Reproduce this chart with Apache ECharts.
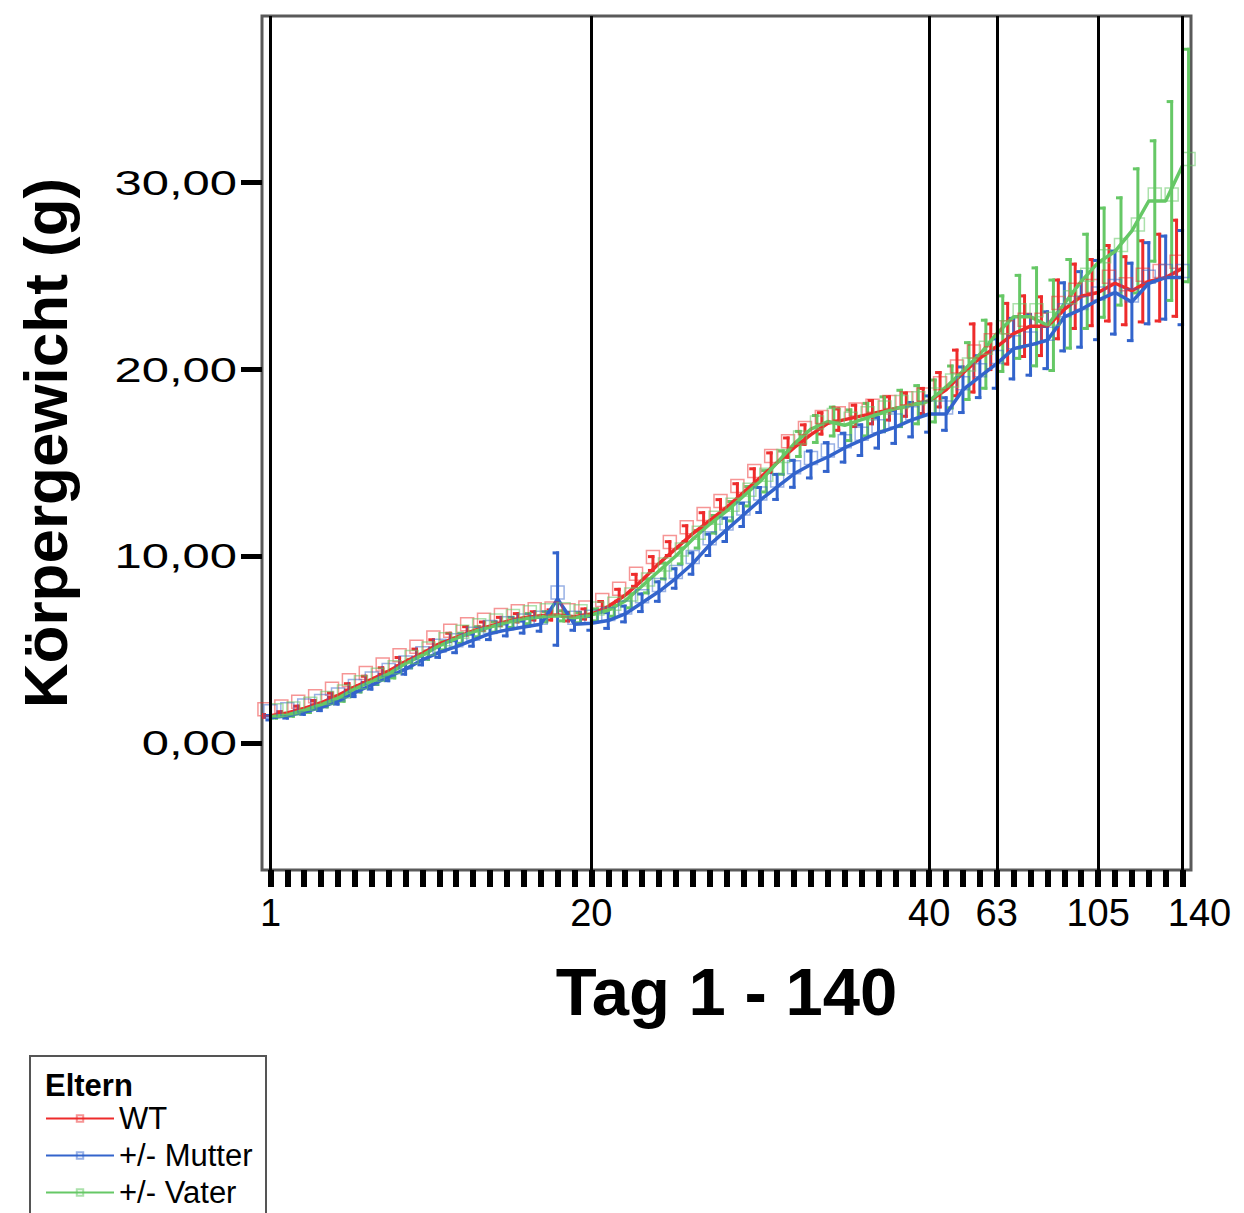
<!DOCTYPE html>
<html>
<head>
<meta charset="utf-8">
<script src="https://cdn.jsdelivr.net/npm/echarts@6/dist/echarts.min.js"></script>
<style>
  html, body { margin: 0; padding: 0; background: #fff; }
  #chart { width: 1244px; height: 1213px; }
</style>
</head>
<body>
<div id="chart"></div>
<script>
// Measurement days (daily up to day 40, then weekly)
const days = [
  '1','2','3','4','5','6','7','8','9','10','11','12','13','14','15','16','17','18','19','20',
  '21','22','23','24','25','26','27','28','29','30','31','32','33','34','35','36','37','38','39','40',
  '42','49','56','63','70','77','84','91','98','105','112','119','126','133','140'
];

// Day labels shown under the axis and marked with vertical lines
const labelDays = ['1', '20', '40', '63', '105', '140'];

// Body weight ticks (g)
const yTickValues = [0, 10, 20, 30];

// Group "WT"
const wtMean = [
  1.45, 1.6, 1.85, 2.15, 2.55, 3.0, 3.4, 3.85, 4.35, 4.8, 5.3, 5.65, 6.0, 6.25, 6.5, 6.7, 6.8, 6.85, 6.75, 6.9,
  7.3, 7.9, 8.7, 9.6, 10.4, 11.2, 11.9, 12.6, 13.4, 14.2, 15.0, 15.8, 16.5, 17.1, 17.3, 17.5, 17.7, 17.9, 18.1, 18.3,
  18.9, 19.8, 20.6, 21.2, 21.9, 22.3, 22.3, 23.2, 23.9, 24.1, 24.6, 24.2, 24.7, 24.9, 25.4
];
const wtErr = [
  0.15, 0.15, 0.2, 0.2, 0.2, 0.25, 0.25, 0.25, 0.3, 0.3, 0.3, 0.3, 0.3, 0.3, 0.3, 0.3, 0.3, 0.35, 0.3, 0.35,
  0.35, 0.4, 0.4, 0.45, 0.45, 0.5, 0.5, 0.5, 0.55, 0.55, 0.6, 0.6, 0.6, 0.65, 0.65, 0.65, 0.7, 0.7, 0.7, 0.75,
  1.0, 1.3, 1.9, 1.3, 1.7, 1.7, 1.65, 1.65, 1.8, 1.85, 2.1, 1.9, 2.25, 2.4, 2.65
];

// Group "+/- Mutter"
const mutterMean = [
  1.35, 1.45, 1.65, 1.9, 2.25, 2.7, 3.1, 3.55, 3.95, 4.45, 4.85, 5.15, 5.5, 5.85, 6.05, 6.2, 6.35, 7.7, 6.35, 6.4,
  6.55, 6.9, 7.5, 8.1, 8.8, 9.6, 10.6, 11.4, 12.2, 13.0, 13.7, 14.4, 14.9, 15.3, 15.8, 16.2, 16.6, 16.9, 17.3, 17.6,
  17.6, 18.9, 19.6, 20.3, 21.1, 21.3, 21.55, 22.8, 23.2, 23.7, 24.1, 23.6, 24.6, 24.9, 24.9
];
const mutterErr = [
  0.2, 0.2, 0.2, 0.25, 0.25, 0.3, 0.3, 0.3, 0.35, 0.35, 0.35, 0.4, 0.4, 0.4, 0.4, 0.4, 0.45, 2.55, 0.4, 0.45,
  0.5, 0.5, 0.55, 0.6, 0.6, 0.65, 0.65, 0.7, 0.7, 0.75, 0.75, 0.8, 0.8, 0.85, 0.85, 0.9, 0.9, 0.95, 1.0, 1.05,
  0.95, 1.3, 1.2, 1.4, 1.7, 1.7, 1.6, 1.9, 2.1, 2.2, 2.3, 2.15, 2.25, 2.3, 2.6
];

// Group "+/- Vater"
const vaterMean = [
  1.4, 1.5, 1.75, 2.05, 2.4, 2.9, 3.3, 3.7, 4.25, 4.7, 5.2, 5.6, 5.95, 6.2, 6.45, 6.65, 6.75, 6.8, 6.7, 6.85,
  7.1, 7.6, 8.4, 9.2, 10.0, 10.9, 11.7, 12.4, 13.2, 14.0, 15.0, 16.0, 16.8, 17.2, 17.0, 17.3, 17.6, 17.9, 18.1, 18.3,
  19.05, 19.9, 20.8, 21.9, 22.8, 22.8, 22.35, 23.5, 24.7, 25.7, 26.3, 27.4, 29.0, 29.0, 30.9
];
const vaterErr = [
  0.15, 0.15, 0.2, 0.2, 0.25, 0.25, 0.25, 0.3, 0.3, 0.3, 0.3, 0.35, 0.35, 0.35, 0.35, 0.35, 0.35, 0.35, 0.35, 0.4,
  0.4, 0.45, 0.45, 0.5, 0.5, 0.55, 0.55, 0.6, 0.6, 0.65, 0.7, 0.75, 0.8, 0.85, 0.9, 0.95, 1.0, 1.05, 1.1, 1.2,
  1.2, 1.6, 1.9, 2.1, 2.3, 2.7, 2.5, 2.45, 2.6, 3.0, 2.95, 3.4, 3.3, 5.4, 6.3
];

const groups = [
  { name: 'WT',         mean: wtMean,     err: wtErr,     color: '#ee2b2b', box: 'rgba(238,43,43,0.5)',  dx: -6 },
  { name: '+/- Mutter', mean: mutterMean, err: mutterErr, color: '#3364cc', box: 'rgba(51,100,204,0.5)', dx: 0 },
  { name: '+/- Vater',  mean: vaterMean,  err: vaterErr,  color: '#66c866', box: 'rgba(102,200,102,0.55)', dx: 6 }
];

const FONT = '"Liberation Sans", Arial, sans-serif';

// Error bar: vertical stroke with short caps reaching to the left
function errorBarItem(color, dx) {
  return function (params, api) {
    const idx = api.value(0);
    const m = api.value(1);
    const e = api.value(2);
    const top = api.coord([idx, m + e]);
    const bot = api.coord([idx, m - e]);
    const x = top[0] + dx;
    const style = { stroke: color, lineWidth: 3, lineCap: 'butt' };
    return {
      type: 'group',
      children: [
        { type: 'line', shape: { x1: x, y1: top[1], x2: x, y2: bot[1] }, style: style },
        { type: 'line', shape: { x1: x - 5, y1: top[1] + 1.5, x2: x + 1.5, y2: top[1] + 1.5 }, style: style },
        { type: 'line', shape: { x1: x - 5, y1: bot[1] - 1.5, x2: x + 1.5, y2: bot[1] - 1.5 }, style: style }
      ]
    };
  };
}

const series = [];
groups.forEach(function (g) {
  series.push({
    type: 'custom',
    name: g.name + ' SD',
    renderItem: errorBarItem(g.color, g.dx),
    data: g.mean.map(function (m, i) { return [i, m, g.err[i]]; }),
    encode: { x: 0, y: 1 },
    clip: true,
    silent: true,
    z: 2
  });
});
groups.forEach(function (g, k) {
  const s = {
    type: 'line',
    name: g.name,
    data: g.mean,
    symbol: 'rect',
    symbolSize: 13,
    symbolOffset: [g.dx, -6.5],
    showAllSymbol: true,
    lineStyle: { color: g.color, width: 3.5 },
    itemStyle: { color: 'rgba(255,255,255,0)', borderColor: g.box, borderWidth: 1.5 },
    emphasis: { disabled: true },
    silent: true,
    z: 3
  };
  if (k === 0) {
    s.markLine = {
      silent: true,
      symbol: ['none', 'none'],
      label: { show: false },
      lineStyle: { color: '#000', width: 3, type: 'solid' },
      emphasis: { disabled: true },
      data: labelDays.map(function (d) { return { xAxis: d }; }),
      z: 6
    };
  }
  series.push(s);
});

const chart = echarts.init(document.getElementById('chart'), null, { renderer: 'svg' });

chart.setOption({
  animation: false,
  backgroundColor: '#fff',
  grid: {
    left: 262, right: 53, top: 16, bottom: 343,
    show: true, borderColor: '#5a5a5a', borderWidth: 3, backgroundColor: 'transparent'
  },
  xAxis: {
    type: 'category',
    data: days,
    boundaryGap: true,
    name: 'Tag 1 - 140',
    nameLocation: 'middle',
    nameGap: 88,
    nameTextStyle: { fontFamily: FONT, fontWeight: 'bold', fontSize: 67, color: '#000' },
    axisLine: { show: false, onZero: false },
    axisTick: { show: true, alignWithLabel: true, interval: 0, length: 17, lineStyle: { color: '#000', width: 6 } },
    axisLabel: {
      show: true,
      interval: function (index, value) { return labelDays.indexOf(value) >= 0; },
      margin: 24,
      fontFamily: FONT,
      fontSize: 38,
      color: '#000',
      formatter: function (v) { return v === '140' ? '{s|' + v + '}' : v; },
      rich: { s: { fontFamily: FONT, fontSize: 38, color: '#000', padding: [0, 0, 0, 34] } }
    },
    splitLine: { show: false }
  },
  yAxis: {
    type: 'value',
    min: -6.8,
    max: 38.9,
    name: 'Körpergewicht (g)',
    nameLocation: 'middle',
    nameGap: 186,
    nameTextStyle: { fontFamily: FONT, fontWeight: 'bold', fontSize: 62, color: '#000' },
    axisLine: { show: false },
    axisTick: { show: true, customValues: yTickValues, length: 21, lineStyle: { color: '#000', width: 5 } },
    axisLabel: { show: false, customValues: yTickValues },
    splitLine: { show: false }
  },
  legend: {
    orient: 'vertical',
    left: 45,
    top: 1100,
    height: 120,
    padding: 0,
    itemWidth: 68,
    itemHeight: 8,
    itemGap: 0,
    selectedMode: false,
    data: groups.map(function (g) { return g.name; }),
    textStyle: { fontFamily: FONT, fontSize: 31, color: '#000', lineHeight: 37 }
  },
  series: series
});

// Tick labels of the weight axis ("0,00" style), placed at the axis positions
const yLabelGraphics = yTickValues.map(function (v) {
  const py = chart.convertToPixel({ yAxisIndex: 0 }, v);
  return {
    type: 'text',
    x: 237,
    y: py,
    scaleX: 1.4,
    silent: true,
    style: {
      text: v.toFixed(2).replace('.', ','),
      fontFamily: FONT,
      fontSize: 35,
      fill: '#000',
      textAlign: 'right',
      textVerticalAlign: 'middle'
    }
  };
});

chart.setOption({
  graphic: [
    {
      type: 'rect',
      silent: true,
      shape: { x: 30, y: 1056, width: 236, height: 200 },
      style: { fill: 'none', stroke: '#555', lineWidth: 2 }
    },
    {
      type: 'text',
      silent: true,
      x: 45,
      y: 1085,
      style: { text: 'Eltern', fontFamily: FONT, fontWeight: 'bold', fontSize: 31, fill: '#000', textVerticalAlign: 'middle' }
    }
  ].concat(yLabelGraphics)
});
</script>
</body>
</html>
